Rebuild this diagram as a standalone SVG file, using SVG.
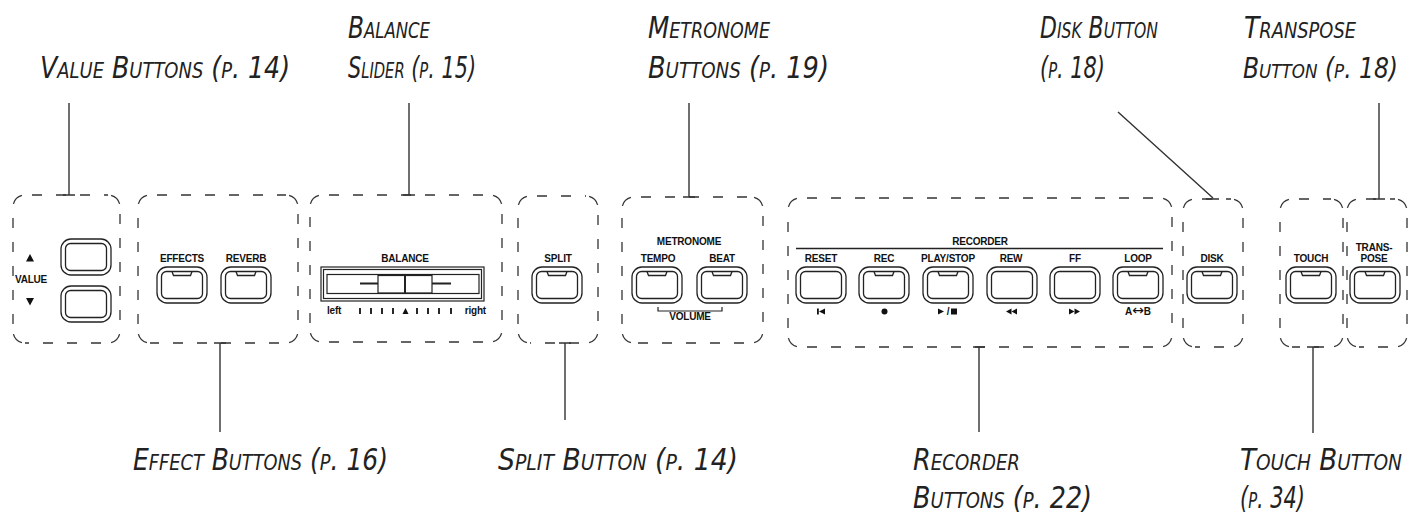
<svg xmlns="http://www.w3.org/2000/svg" width="1412" height="513" viewBox="0 0 1412 513">
<style>
.side{fill:none;stroke:#333;stroke-width:1.3;stroke-dasharray:10 14;stroke-dashoffset:17}
.corner{fill:none;stroke:#333;stroke-width:1.3}
.btn rect,.btn path{fill:#fff;stroke:#222;stroke-width:1.3}
.btn path{fill:none}
.conn{fill:none;stroke:#333;stroke-width:1.4}
.lab{font-family:"Liberation Sans Narrow","DejaVu Sans Condensed","Liberation Sans",sans-serif;font-style:italic;font-variant:small-caps;font-size:31px;fill:#222}
.t{font-family:"Liberation Sans",Arial,sans-serif;font-weight:bold;font-size:10px;fill:#111;text-anchor:middle;letter-spacing:-0.2px}
.sym{fill:#111;stroke:none}
.frame{fill:none;stroke:#222;stroke-width:1.2}
</style>
<defs>
<g id="btn" class="btn"><rect x="0" y="0" width="50" height="36" rx="10"/><rect x="4.5" y="4.5" width="41" height="27" rx="5"/></g>
<g id="btnLed" class="btn"><rect x="0" y="0" width="50" height="36" rx="10"/><rect x="4.5" y="4.5" width="41" height="27" rx="5"/><path d="M15 4.5 L16.5 8.5 H33.5 L35 4.5"/></g>
</defs>

<g id="connectors">
<path class="conn" d="M69 103V195M63 195H75"/>
<path class="conn" d="M409 103V195M403 195H415"/>
<path class="conn" d="M689 103V197M683 197H695"/>
<path class="conn" d="M1118 112L1213 198M1206 199H1219"/>
<path class="conn" d="M1379 103V199M1373 199H1385"/>
<path class="conn" d="M220 343V432M214 343H226"/>
<path class="conn" d="M565 343V420M559 343H571"/>
<path class="conn" d="M979 347V432M973 347H985"/>
<path class="conn" d="M1313 347V433M1307 347H1319"/>
</g>

<g id="value-panel">
<path class="side" d="M25 195H108M120 207V331M108 343H25M13 331V207"/>
<path class="corner" d="M13.4 203.9A12 12 0 0 1 21.9 195.4M111.1 195.4A12 12 0 0 1 119.6 203.9M119.6 334.1A12 12 0 0 1 111.1 342.6M21.9 342.6A12 12 0 0 1 13.4 334.1"/>
<polygon class="sym" points="30,254 26,261.5 34,261.5"/>
<text class="t" x="31" y="283">VALUE</text>
<polygon class="sym" points="26,298 34,298 30,305.5"/>
<use href="#btn" x="61" y="239"/>
<use href="#btn" x="61" y="286"/>
</g>

<g id="effects-panel">
<path class="side" d="M150 195H286M298 207V331M286 343H150M138 331V207"/>
<path class="corner" d="M138.4 203.9A12 12 0 0 1 146.9 195.4M289.1 195.4A12 12 0 0 1 297.6 203.9M297.6 334.1A12 12 0 0 1 289.1 342.6M146.9 342.6A12 12 0 0 1 138.4 334.1"/>
<text class="t" x="182" y="262">EFFECTS</text>
<text class="t" x="246" y="262">REVERB</text>
<use href="#btnLed" x="157" y="267"/>
<use href="#btnLed" x="221" y="267"/>
</g>

<g id="balance-panel">
<path class="side" d="M322 195H490M502 207V330M490 342H322M310 330V207"/>
<path class="corner" d="M310.4 203.9A12 12 0 0 1 318.9 195.4M493.1 195.4A12 12 0 0 1 501.6 203.9M501.6 333.1A12 12 0 0 1 493.1 341.6M318.9 341.6A12 12 0 0 1 310.4 333.1"/>
<text class="t" x="405" y="262">BALANCE</text>
<rect class="frame" x="321" y="267" width="163" height="34"/>
<rect class="frame" x="323.5" y="269.5" width="158" height="29"/>
<rect class="frame" x="327" y="274.5" width="152" height="19"/>
<rect class="frame" x="378" y="275.5" width="54" height="17.5" fill="#fff"/>
<path d="M405 275.5V293M360 283.5H378M432 283.5H451" stroke="#222" stroke-width="2" fill="none"/>
<path d="M360 308V314M371 308V314M382 308V314M393 308V314M417 308V314M428 308V314M439 308V314M451 308V314" stroke="#111" stroke-width="1.8"/>
<polygon class="sym" points="405.5,308 402.5,314 408.5,314"/>
<text class="t" x="327" y="314" style="text-anchor:start">left</text>
<text class="t" x="486" y="314" style="text-anchor:end">right</text>
</g>

<g id="split-panel">
<path class="side" d="M530 196H586M598 208V331M586 343H530M518 331V208"/>
<path class="corner" d="M518.4 204.9A12 12 0 0 1 526.9 196.4M589.1 196.4A12 12 0 0 1 597.6 204.9M597.6 334.1A12 12 0 0 1 589.1 342.6M526.9 342.6A12 12 0 0 1 518.4 334.1"/>
<text class="t" x="558" y="262">SPLIT</text>
<use href="#btnLed" x="532" y="267"/>
</g>

<g id="metronome-panel">
<path class="side" d="M634 197H751M763 209V331M751 343H634M622 331V209"/>
<path class="corner" d="M622.4 205.9A12 12 0 0 1 630.9 197.4M754.1 197.4A12 12 0 0 1 762.6 205.9M762.6 334.1A12 12 0 0 1 754.1 342.6M630.9 342.6A12 12 0 0 1 622.4 334.1"/>
<text class="t" x="689" y="245">METRONOME</text>
<text class="t" x="658" y="262">TEMPO</text>
<text class="t" x="722" y="262">BEAT</text>
<use href="#btnLed" x="632" y="267"/>
<use href="#btnLed" x="697" y="267"/>
<path d="M658 307V311H722V307" fill="none" stroke="#222" stroke-width="1.2"/>
<text class="t" x="690" y="320">VOLUME</text>
</g>

<g id="recorder-panel">
<path class="side" d="M800 198H1160M1172 210V335M1160 347H800M788 335V210"/>
<path class="corner" d="M788.4 206.9A12 12 0 0 1 796.9 198.4M1163.1 198.4A12 12 0 0 1 1171.6 206.9M1171.6 338.1A12 12 0 0 1 1163.1 346.6M796.9 346.6A12 12 0 0 1 788.4 338.1"/>
<text class="t" x="980" y="245">RECORDER</text>
<path d="M796 248.5H1163" stroke="#222" stroke-width="1.3"/>
<text class="t" x="821" y="262">RESET</text>
<text class="t" x="884" y="262">REC</text>
<text class="t" x="948" y="262">PLAY/STOP</text>
<text class="t" x="1011" y="262">REW</text>
<text class="t" x="1075" y="262">FF</text>
<text class="t" x="1138" y="262">LOOP</text>
<use href="#btn" x="796" y="267"/>
<use href="#btnLed" x="859" y="267"/>
<use href="#btnLed" x="923" y="267"/>
<use href="#btn" x="987" y="267"/>
<use href="#btn" x="1050" y="267"/>
<use href="#btnLed" x="1113" y="267"/>
<rect class="sym" x="817" y="308.5" width="1.8" height="6"/>
<polygon class="sym" points="819,311.5 825,308.5 825,314.5"/>
<circle class="sym" cx="884.5" cy="311.5" r="3"/>
<polygon class="sym" points="938,308.5 944,311.5 938,314.5"/>
<text class="t" x="948" y="315">/</text>
<rect class="sym" x="951" y="308.5" width="6" height="6"/>
<polygon class="sym" points="1006,311.5 1011.5,308.5 1011.5,314.5"/>
<polygon class="sym" points="1011.5,311.5 1017,308.5 1017,314.5"/>
<polygon class="sym" points="1069,308.5 1074.5,311.5 1069,314.5"/>
<polygon class="sym" points="1074.5,308.5 1080,311.5 1074.5,314.5"/>
<text class="t" x="1138" y="315" style="letter-spacing:0">A<tspan style="font-family:'DejaVu Sans',sans-serif;font-weight:normal;font-size:14px">↔</tspan>B</text>
</g>

<g id="disk-panel">
<path class="side" d="M1195 199H1231M1243 211V335M1231 347H1195M1183 335V211"/>
<path class="corner" d="M1183.4 207.9A12 12 0 0 1 1191.9 199.4M1234.1 199.4A12 12 0 0 1 1242.6 207.9M1242.6 338.1A12 12 0 0 1 1234.1 346.6M1191.9 346.6A12 12 0 0 1 1183.4 338.1"/>
<text class="t" x="1212" y="262">DISK</text>
<use href="#btnLed" x="1187" y="267"/>
</g>

<g id="touch-panel">
<path class="side" d="M1292 199H1331M1343 211V335M1331 347H1292M1280 335V211"/>
<path class="corner" d="M1280.4 207.9A12 12 0 0 1 1288.9 199.4M1334.1 199.4A12 12 0 0 1 1342.6 207.9M1342.6 338.1A12 12 0 0 1 1334.1 346.6M1288.9 346.6A12 12 0 0 1 1280.4 338.1"/>
<text class="t" x="1311" y="262">TOUCH</text>
<use href="#btnLed" x="1286" y="267"/>
</g>

<g id="transpose-panel">
<path class="side" d="M1359 199H1395M1407 211V335M1395 347H1359M1347 335V211"/>
<path class="corner" d="M1347.4 207.9A12 12 0 0 1 1355.9 199.4M1398.1 199.4A12 12 0 0 1 1406.6 207.9M1406.6 338.1A12 12 0 0 1 1398.1 346.6M1355.9 346.6A12 12 0 0 1 1347.4 338.1"/>
<text class="t" x="1374" y="251">TRANS-</text>
<text class="t" x="1374" y="262">POSE</text>
<use href="#btnLed" x="1350" y="267"/>
</g>

<g id="labels">
<text class="lab" x="40" y="78" textLength="250" lengthAdjust="spacingAndGlyphs">Value Buttons (p. 14)</text>
<text class="lab" x="348" y="38" textLength="82" lengthAdjust="spacingAndGlyphs">Balance</text>
<text class="lab" x="348" y="78" textLength="128" lengthAdjust="spacingAndGlyphs">Slider (p. 15)</text>
<text class="lab" x="648" y="38" textLength="122" lengthAdjust="spacingAndGlyphs">Metronome</text>
<text class="lab" x="648" y="78" textLength="181" lengthAdjust="spacingAndGlyphs">Buttons (p. 19)</text>
<text class="lab" x="1040" y="38" textLength="118" lengthAdjust="spacingAndGlyphs">Disk Button</text>
<text class="lab" x="1040" y="78" textLength="65" lengthAdjust="spacingAndGlyphs">(p. 18)</text>
<text class="lab" x="1244" y="38" textLength="112" lengthAdjust="spacingAndGlyphs">Transpose</text>
<text class="lab" x="1243" y="78" style="font-size:28px" textLength="155" lengthAdjust="spacingAndGlyphs">Button (p. 18)</text>
<text class="lab" x="133" y="470" textLength="255" lengthAdjust="spacingAndGlyphs">Effect Buttons (p. 16)</text>
<text class="lab" x="498" y="470" textLength="240" lengthAdjust="spacingAndGlyphs">Split Button (p. 14)</text>
<text class="lab" x="913" y="470" textLength="107" lengthAdjust="spacingAndGlyphs">Recorder</text>
<text class="lab" x="913" y="508" textLength="179" lengthAdjust="spacingAndGlyphs">Buttons (p. 22)</text>
<text class="lab" x="1240" y="470" textLength="162" lengthAdjust="spacingAndGlyphs">Touch Button</text>
<text class="lab" x="1240" y="508" textLength="65" lengthAdjust="spacingAndGlyphs">(p. 34)</text>
</g>
</svg>
